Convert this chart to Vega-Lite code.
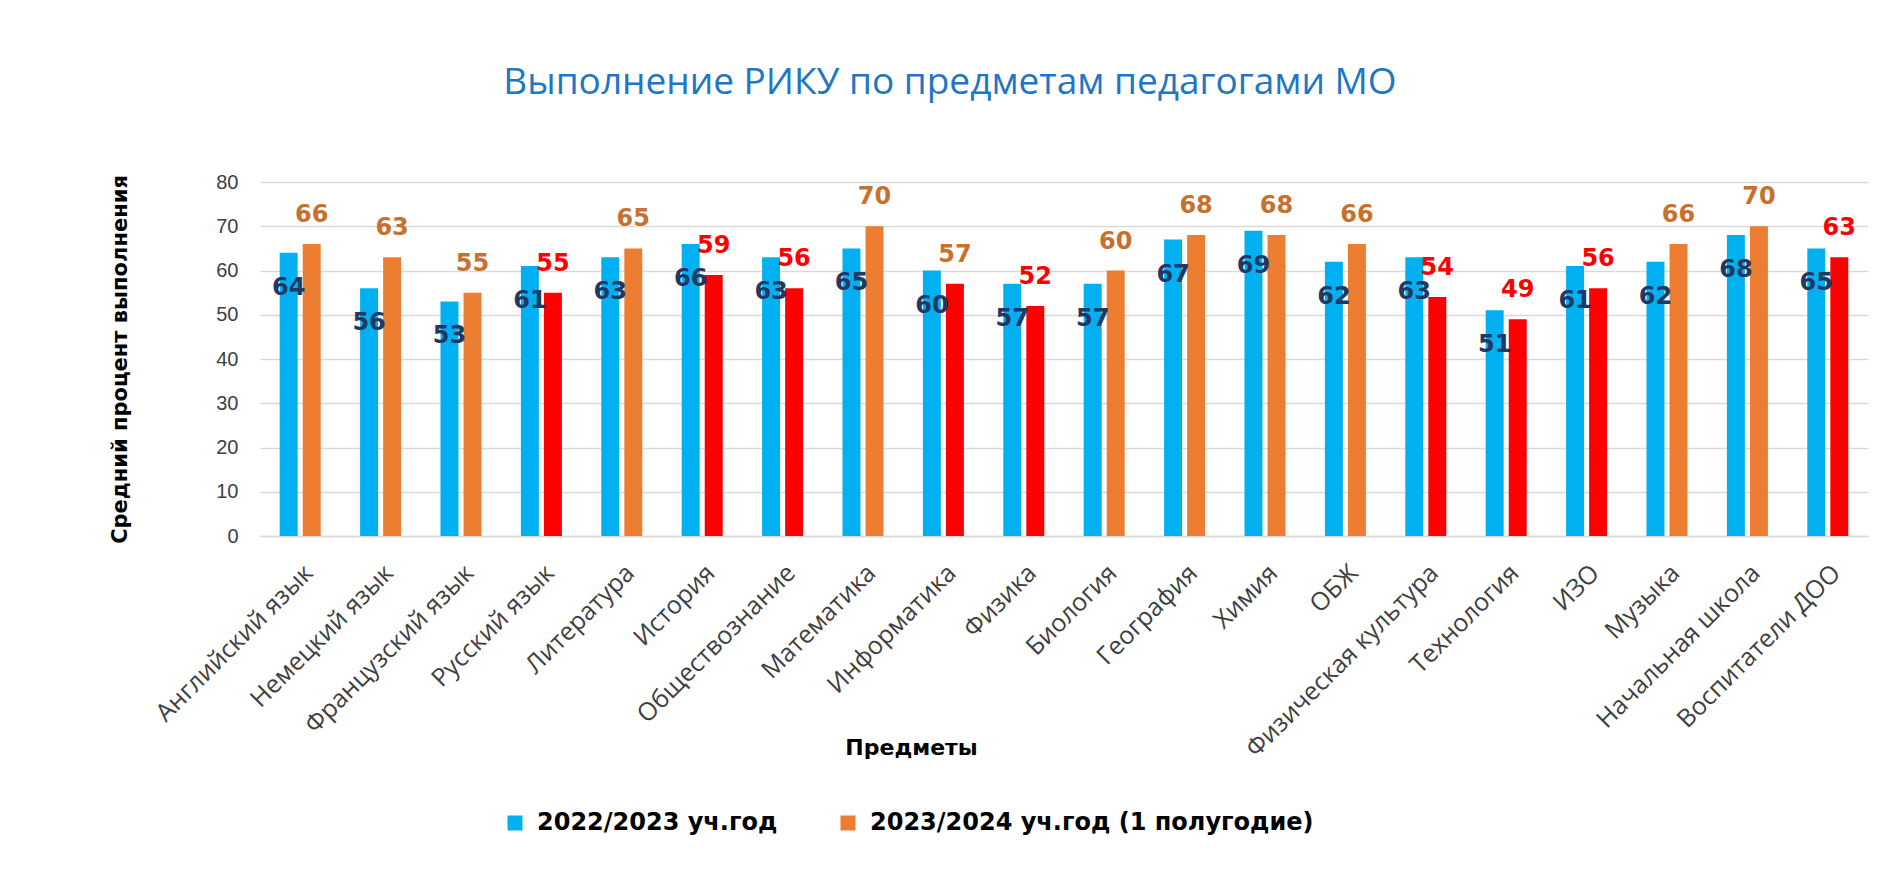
{
  "$schema": "https://vega.github.io/schema/vega-lite/v6.json",
  "width": 1608,
  "height": 354,
  "autosize": {"type": "none"},
  "padding": {"left": 260, "top": 182, "right": 20, "bottom": 358},
  "background": "white",
  "config": {"view": {"stroke": null}, "font": "Open Sans"},
  "title": {
    "text": "Выполнение РИКУ по предметам педагогами МО",
    "font": "Open Sans",
    "fontSize": 37,
    "fontWeight": "normal",
    "color": "#1E76C4",
    "anchor": "middle",
    "dx": -114,
    "offset": 70
  },
  "data": {
    "values": [
      {"subject": "Английский язык", "year": "2022/2023 уч.год", "value": 64, "change": "база"},
      {"subject": "Английский язык", "year": "2023/2024 уч.год (1 полугодие)", "value": 66, "change": "рост"},
      {"subject": "Немецкий язык", "year": "2022/2023 уч.год", "value": 56, "change": "база"},
      {"subject": "Немецкий язык", "year": "2023/2024 уч.год (1 полугодие)", "value": 63, "change": "рост"},
      {"subject": "Французский язык", "year": "2022/2023 уч.год", "value": 53, "change": "база"},
      {"subject": "Французский язык", "year": "2023/2024 уч.год (1 полугодие)", "value": 55, "change": "рост"},
      {"subject": "Русский язык", "year": "2022/2023 уч.год", "value": 61, "change": "база"},
      {"subject": "Русский язык", "year": "2023/2024 уч.год (1 полугодие)", "value": 55, "change": "снижение"},
      {"subject": "Литература", "year": "2022/2023 уч.год", "value": 63, "change": "база"},
      {"subject": "Литература", "year": "2023/2024 уч.год (1 полугодие)", "value": 65, "change": "рост"},
      {"subject": "История", "year": "2022/2023 уч.год", "value": 66, "change": "база"},
      {"subject": "История", "year": "2023/2024 уч.год (1 полугодие)", "value": 59, "change": "снижение"},
      {"subject": "Обществознание", "year": "2022/2023 уч.год", "value": 63, "change": "база"},
      {"subject": "Обществознание", "year": "2023/2024 уч.год (1 полугодие)", "value": 56, "change": "снижение"},
      {"subject": "Математика", "year": "2022/2023 уч.год", "value": 65, "change": "база"},
      {"subject": "Математика", "year": "2023/2024 уч.год (1 полугодие)", "value": 70, "change": "рост"},
      {"subject": "Информатика", "year": "2022/2023 уч.год", "value": 60, "change": "база"},
      {"subject": "Информатика", "year": "2023/2024 уч.год (1 полугодие)", "value": 57, "change": "снижение"},
      {"subject": "Физика", "year": "2022/2023 уч.год", "value": 57, "change": "база"},
      {"subject": "Физика", "year": "2023/2024 уч.год (1 полугодие)", "value": 52, "change": "снижение"},
      {"subject": "Биология", "year": "2022/2023 уч.год", "value": 57, "change": "база"},
      {"subject": "Биология", "year": "2023/2024 уч.год (1 полугодие)", "value": 60, "change": "рост"},
      {"subject": "География", "year": "2022/2023 уч.год", "value": 67, "change": "база"},
      {"subject": "География", "year": "2023/2024 уч.год (1 полугодие)", "value": 68, "change": "рост"},
      {"subject": "Химия", "year": "2022/2023 уч.год", "value": 69, "change": "база"},
      {"subject": "Химия", "year": "2023/2024 уч.год (1 полугодие)", "value": 68, "change": "рост"},
      {"subject": "ОБЖ", "year": "2022/2023 уч.год", "value": 62, "change": "база"},
      {"subject": "ОБЖ", "year": "2023/2024 уч.год (1 полугодие)", "value": 66, "change": "рост"},
      {"subject": "Физическая культура", "year": "2022/2023 уч.год", "value": 63, "change": "база"},
      {"subject": "Физическая культура", "year": "2023/2024 уч.год (1 полугодие)", "value": 54, "change": "снижение"},
      {"subject": "Технология", "year": "2022/2023 уч.год", "value": 51, "change": "база"},
      {"subject": "Технология", "year": "2023/2024 уч.год (1 полугодие)", "value": 49, "change": "снижение"},
      {"subject": "ИЗО", "year": "2022/2023 уч.год", "value": 61, "change": "база"},
      {"subject": "ИЗО", "year": "2023/2024 уч.год (1 полугодие)", "value": 56, "change": "снижение"},
      {"subject": "Музыка", "year": "2022/2023 уч.год", "value": 62, "change": "база"},
      {"subject": "Музыка", "year": "2023/2024 уч.год (1 полугодие)", "value": 66, "change": "рост"},
      {"subject": "Начальная школа", "year": "2022/2023 уч.год", "value": 68, "change": "база"},
      {"subject": "Начальная школа", "year": "2023/2024 уч.год (1 полугодие)", "value": 70, "change": "рост"},
      {"subject": "Воспитатели ДОО", "year": "2022/2023 уч.год", "value": 65, "change": "база"},
      {"subject": "Воспитатели ДОО", "year": "2023/2024 уч.год (1 полугодие)", "value": 63, "change": "снижение"}
    ]
  },
  "encoding": {
    "x": {
      "field": "subject",
      "type": "nominal",
      "sort": null,
      "scale": {"paddingInner": 0.49, "paddingOuter": 0.245},
      "axis": {
        "domainColor": "#D9D9D9",
        "domainWidth": 1.5,
        "ticks": false,
        "labelAngle": -45,
        "labelFont": "Open Sans",
        "labelFontSize": 25,
        "labelColor": "#404040",
        "labelPadding": 24,
        "labelLimit": 500,
        "title": "Предметы",
        "titleFont": "DejaVu Sans",
        "titleFontSize": 22,
        "titleFontWeight": "bold",
        "titleColor": "#000000",
        "titleX": 651,
        "titleY": 211,
        "titleBaseline": "middle"
      }
    },
    "y": {
      "field": "value",
      "type": "quantitative",
      "scale": {"domain": [0, 80]},
      "axis": {
        "values": [0, 10, 20, 30, 40, 50, 60, 70, 80],
        "grid": true,
        "gridColor": "#D9D9D9",
        "gridWidth": 1.5,
        "domain": false,
        "ticks": false,
        "labelFont": "Liberation Sans",
        "labelFontSize": 20,
        "labelColor": "#404040",
        "labelPadding": 22,
        "title": "Средний процент выполнения",
        "titleFont": "DejaVu Sans",
        "titleFontSize": 21,
        "titleFontWeight": "bold",
        "titleColor": "#000000",
        "titleX": -130,
        "titleY": 177
      }
    },
    "xOffset": {
      "field": "year",
      "type": "nominal",
      "sort": null,
      "scale": {"domain": ["2022/2023 уч.год", "2023/2024 уч.год (1 полугодие)"], "paddingInner": 0.22}
    }
  },
  "layer": [
    {
      "mark": {"type": "bar"},
      "encoding": {
        "color": {
          "condition": {"test": "datum.change === 'снижение'", "value": "#FF0000"},
          "field": "year",
          "type": "nominal",
          "scale": {"domain": ["2022/2023 уч.год", "2023/2024 уч.год (1 полугодие)"], "range": ["#00B0F0", "#ED7D31"]},
          "legend": {
            "title": null,
            "orient": "none",
            "legendX": 243,
            "legendY": 629,
            "direction": "horizontal",
            "symbolType": "square",
            "symbolSize": 225,
            "symbolStrokeWidth": 0,
            "symbolOpacity": 1,
            "labelFont": "DejaVu Sans",
            "labelFontSize": 24,
            "labelFontWeight": "bold",
            "labelColor": "#000000",
            "labelOffset": 10,
            "columnPadding": 58,
            "labelLimit": 700
          }
        }
      }
    },
    {
      "transform": [{"filter": "datum.year === '2022/2023 уч.год'"}],
      "mark": {"type": "text", "font": "DejaVu Sans", "fontSize": 24, "fontWeight": "bold", "color": "#203864", "baseline": "middle", "dy": 35},
      "encoding": {"text": {"field": "value", "type": "quantitative"}}
    },
    {
      "transform": [{"filter": "datum.year !== '2022/2023 уч.год'"}],
      "mark": {"type": "text", "font": "DejaVu Sans", "fontSize": 24, "fontWeight": "bold", "baseline": "middle", "dy": -29},
      "encoding": {
        "text": {"field": "value", "type": "quantitative"},
        "color": {
          "condition": {"test": "datum.change === 'снижение' && datum.subject !== 'Информатика'", "value": "#FF0000"},
          "value": "#C8702E"
        }
      }
    }
  ]
}
